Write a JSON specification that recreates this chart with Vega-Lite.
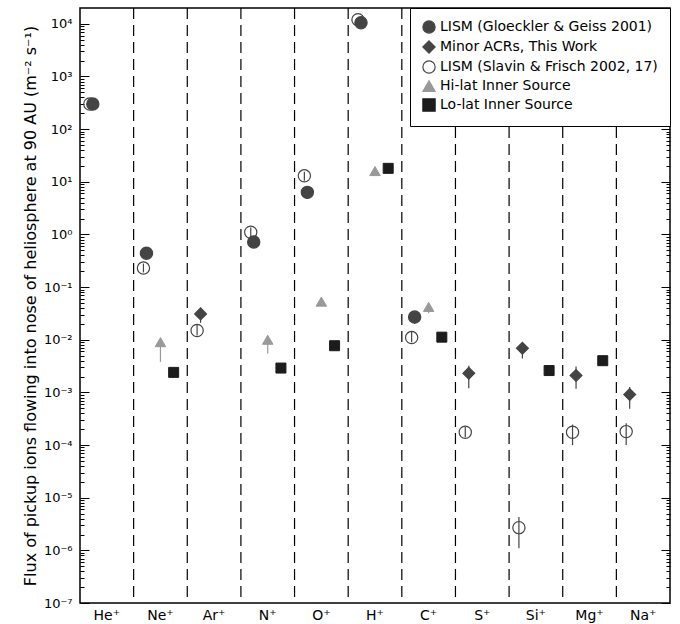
{
  "$schema": "https://vega.github.io/schema/vega-lite/v6.json",
  "width": 590,
  "height": 595,
  "autosize": {"type": "none"},
  "padding": {"left": 80, "top": 8, "right": 10, "bottom": 21},
  "config": {
    "view": {"stroke": "black", "strokeWidth": 1.5},
    "font": "DejaVu Sans",
    "axis": {"grid": false, "labelColor": "black", "titleColor": "black", "tickColor": "black", "domainColor": "black", "labelFont": "DejaVu Sans", "titleFont": "DejaVu Sans"},
    "legend": {
      "orient": "top-right", "offset": 0, "strokeColor": "black", "fillColor": "white",
      "padding": 12, "labelFontSize": 14, "labelFont": "DejaVu Sans", "labelColor": "black",
      "symbolSize": 150, "symbolStrokeWidth": 1.2, "rowPadding": 2, "labelLimit": 400, "labelOffset": 4
    }
  },
  "datasets": {
    "pts": [
      {"ion": "He⁺", "series": "LISM (Slavin & Frisch 2002, 17)", "v": 300},
      {"ion": "He⁺", "series": "LISM (Gloeckler & Geiss 2001)", "v": 300},
      {"ion": "Ne⁺", "series": "LISM (Gloeckler & Geiss 2001)", "v": 0.44},
      {"ion": "Ne⁺", "series": "LISM (Slavin & Frisch 2002, 17)", "v": 0.23, "lo": 0.19, "hi": 0.28},
      {"ion": "Ne⁺", "series": "Hi-lat Inner Source", "v": 0.009, "lo": 0.0038, "hi": 0.009},
      {"ion": "Ne⁺", "series": "Lo-lat Inner Source", "v": 0.0024},
      {"ion": "Ar⁺", "series": "Minor ACRs, This Work", "v": 0.031, "lo": 0.021, "hi": 0.031},
      {"ion": "Ar⁺", "series": "LISM (Slavin & Frisch 2002, 17)", "v": 0.015, "lo": 0.012, "hi": 0.019},
      {"ion": "N⁺", "series": "LISM (Slavin & Frisch 2002, 17)", "v": 1.1, "lo": 0.8, "hi": 1.35},
      {"ion": "N⁺", "series": "LISM (Gloeckler & Geiss 2001)", "v": 0.72},
      {"ion": "N⁺", "series": "Hi-lat Inner Source", "v": 0.01, "lo": 0.0055, "hi": 0.01},
      {"ion": "N⁺", "series": "Lo-lat Inner Source", "v": 0.0029},
      {"ion": "O⁺", "series": "LISM (Slavin & Frisch 2002, 17)", "v": 13, "lo": 10.5, "hi": 15.5},
      {"ion": "O⁺", "series": "LISM (Gloeckler & Geiss 2001)", "v": 6.3},
      {"ion": "O⁺", "series": "Hi-lat Inner Source", "v": 0.053},
      {"ion": "O⁺", "series": "Lo-lat Inner Source", "v": 0.0077},
      {"ion": "H⁺", "series": "LISM (Slavin & Frisch 2002, 17)", "v": 12000},
      {"ion": "H⁺", "series": "LISM (Gloeckler & Geiss 2001)", "v": 10500},
      {"ion": "H⁺", "series": "Hi-lat Inner Source", "v": 16},
      {"ion": "H⁺", "series": "Lo-lat Inner Source", "v": 18},
      {"ion": "C⁺", "series": "LISM (Gloeckler & Geiss 2001)", "v": 0.027, "lo": 0.02, "hi": 0.027},
      {"ion": "C⁺", "series": "LISM (Slavin & Frisch 2002, 17)", "v": 0.011, "lo": 0.009, "hi": 0.014},
      {"ion": "C⁺", "series": "Hi-lat Inner Source", "v": 0.042, "lo": 0.032, "hi": 0.042},
      {"ion": "C⁺", "series": "Lo-lat Inner Source", "v": 0.0112},
      {"ion": "S⁺", "series": "Minor ACRs, This Work", "v": 0.0023, "lo": 0.0012, "hi": 0.0032},
      {"ion": "S⁺", "series": "LISM (Slavin & Frisch 2002, 17)", "v": 0.000175, "lo": 0.00014, "hi": 0.00022},
      {"ion": "Si⁺", "series": "Minor ACRs, This Work", "v": 0.0069, "lo": 0.0044, "hi": 0.0085},
      {"ion": "Si⁺", "series": "LISM (Slavin & Frisch 2002, 17)", "v": 0.0000027, "lo": 0.0000011, "hi": 0.0000043},
      {"ion": "Si⁺", "series": "Lo-lat Inner Source", "v": 0.0026},
      {"ion": "Mg⁺", "series": "Minor ACRs, This Work", "v": 0.0021, "lo": 0.00117, "hi": 0.0031},
      {"ion": "Mg⁺", "series": "LISM (Slavin & Frisch 2002, 17)", "v": 0.000175, "lo": 0.0001, "hi": 0.000245},
      {"ion": "Mg⁺", "series": "Lo-lat Inner Source", "v": 0.004},
      {"ion": "Na⁺", "series": "Minor ACRs, This Work", "v": 0.00091, "lo": 0.00049, "hi": 0.00127},
      {"ion": "Na⁺", "series": "LISM (Slavin & Frisch 2002, 17)", "v": 0.00018, "lo": 0.0001, "hi": 0.00026}
    ],
    "seps": [
      {"ion": "Ne⁺"}, {"ion": "Ar⁺"}, {"ion": "N⁺"}, {"ion": "O⁺"}, {"ion": "H⁺"},
      {"ion": "C⁺"}, {"ion": "S⁺"}, {"ion": "Si⁺"}, {"ion": "Mg⁺"}, {"ion": "Na⁺"}
    ]
  },
  "resolve": {"axis": {"y": "independent"}},
  "layer": [
    {
      "data": {"name": "pts"},
      "transform": [{"filter": "datum.series == 'LISM (Slavin & Frisch 2002, 17)'"}],
      "mark": {"type": "point", "filled": true, "size": 150, "strokeWidth": 1.2, "opacity": 1, "xOffset": -17},
      "encoding": {
        "x": {
          "field": "ion", "type": "nominal",
          "scale": {"type": "band", "domain": ["He⁺", "Ne⁺", "Ar⁺", "N⁺", "O⁺", "H⁺", "C⁺", "S⁺", "Si⁺", "Mg⁺", "Na⁺"], "paddingInner": 0, "paddingOuter": 0},
          "axis": {"title": null, "labelAngle": 0, "ticks": false, "domain": false, "labelFontSize": 14, "labelPadding": 5, "labelColor": "black"}
        },
        "y": {
          "field": "v", "type": "quantitative",
          "scale": {"type": "log", "domain": [1e-7, 20000], "nice": false},
          "axis": {
            "orient": "left", "offset": -9,
            "values": [1e-7,2e-7,3e-7,4e-7,5e-7,6e-7,7e-7,8e-7,9e-7,1e-6,2e-6,3e-6,4e-6,5e-6,6e-6,7e-6,8e-6,9e-6,1e-5,2e-5,3e-5,4e-5,5e-5,6e-5,7e-5,8e-5,9e-5,1e-4,2e-4,3e-4,4e-4,5e-4,6e-4,7e-4,8e-4,9e-4,1e-3,2e-3,3e-3,4e-3,5e-3,6e-3,7e-3,8e-3,9e-3,0.01,0.02,0.03,0.04,0.05,0.06,0.07,0.08,0.09,0.1,0.2,0.3,0.4,0.5,0.6,0.7,0.8,0.9,1,2,3,4,5,6,7,8,9,10,20,30,40,50,60,70,80,90,100,200,300,400,500,600,700,800,900,1000,2000,3000,4000,5000,6000,7000,8000,9000,10000],
            "labelExpr": "abs(log(datum.value)/LN10 - round(log(datum.value)/LN10)) < 0.001 ? ['10⁻⁷','10⁻⁶','10⁻⁵','10⁻⁴','10⁻³','10⁻²','10⁻¹','10⁰','10¹','10²','10³','10⁴'][round(log(datum.value)/LN10)+7] : ''",
            "ticks": true, "tickSize": 9,
            "tickDash": {"condition": {"test": "abs(log(datum.value)/LN10 - round(log(datum.value)/LN10)) < 0.001", "value": [9, 0]}, "value": [0, 5, 4, 20]},
            "domain": true, "domainOpacity": 0, "labelPadding": 8, "labelFontSize": 13, "labelOverlap": false, "labelBound": false,
            "title": "Flux of pickup ions flowing into nose of heliosphere at 90 AU (m⁻² s⁻¹)",
            "titleFontSize": 16, "titleFontWeight": "normal", "titlePadding": 5
          }
        },
        "fill": {"field": "series", "type": "nominal", "title": null,
          "scale": {"domain": ["LISM (Gloeckler & Geiss 2001)", "Minor ACRs, This Work", "LISM (Slavin & Frisch 2002, 17)", "Hi-lat Inner Source", "Lo-lat Inner Source"], "range": ["#444444", "#444444", "transparent", "#999999", "#1c1c1c"]},
          "legend": {"labelExpr": "indexof(datum.label, 'lat') > 0 ? '\u00a0\u00a0\u00a0\u00a0' + datum.label : datum.label"}},
        "stroke": {"field": "series", "type": "nominal", "title": null,
          "scale": {"domain": ["LISM (Gloeckler & Geiss 2001)", "Minor ACRs, This Work", "LISM (Slavin & Frisch 2002, 17)", "Hi-lat Inner Source", "Lo-lat Inner Source"], "range": ["#444444", "#444444", "#444444", "#999999", "#1c1c1c"]}},
        "shape": {"field": "series", "type": "nominal", "title": null,
          "scale": {"domain": ["LISM (Gloeckler & Geiss 2001)", "Minor ACRs, This Work", "LISM (Slavin & Frisch 2002, 17)", "Hi-lat Inner Source", "Lo-lat Inner Source"], "range": ["circle", "diamond", "circle", "triangle-up", "square"]}}
      }
    },
    {
      "data": {"name": "pts"},
      "transform": [{"filter": "datum.series == 'LISM (Gloeckler & Geiss 2001)'"}],
      "mark": {"type": "point", "filled": true, "size": 150, "strokeWidth": 1.2, "opacity": 1, "xOffset": -14},
      "encoding": {
        "x": {"field": "ion", "type": "nominal"},
        "y": {"field": "v", "type": "quantitative", "scale": {"type": "log", "domain": [1e-7, 20000], "nice": false},
          "axis": {"orient": "right", "offset": -9,
            "values": [1e-7,2e-7,3e-7,4e-7,5e-7,6e-7,7e-7,8e-7,9e-7,1e-6,2e-6,3e-6,4e-6,5e-6,6e-6,7e-6,8e-6,9e-6,1e-5,2e-5,3e-5,4e-5,5e-5,6e-5,7e-5,8e-5,9e-5,1e-4,2e-4,3e-4,4e-4,5e-4,6e-4,7e-4,8e-4,9e-4,1e-3,2e-3,3e-3,4e-3,5e-3,6e-3,7e-3,8e-3,9e-3,0.01,0.02,0.03,0.04,0.05,0.06,0.07,0.08,0.09,0.1,0.2,0.3,0.4,0.5,0.6,0.7,0.8,0.9,1,2,3,4,5,6,7,8,9,10,20,30,40,50,60,70,80,90,100,200,300,400,500,600,700,800,900,1000,2000,3000,4000,5000,6000,7000,8000,9000,10000],
            "labelExpr": "''", "ticks": true, "tickSize": 9,
            "tickDash": {"condition": {"test": "abs(log(datum.value)/LN10 - round(log(datum.value)/LN10)) < 0.001", "value": [9, 0]}, "value": [0, 5, 4, 20]},
            "domain": true, "domainOpacity": 0, "title": null}},
        "fill": {"field": "series", "type": "nominal", "title": null},
        "stroke": {"field": "series", "type": "nominal", "title": null},
        "shape": {"field": "series", "type": "nominal", "title": null}
      }
    },
    {
      "data": {"name": "seps"},
      "mark": {"type": "rule", "color": "black", "strokeWidth": 1.2, "strokeDash": [11, 6]},
      "encoding": {
        "x": {"field": "ion", "type": "nominal", "bandPosition": 0}
      }
    },
    {
      "data": {"name": "pts"},
      "transform": [{"filter": "datum.series == 'LISM (Slavin & Frisch 2002, 17)' && isValid(datum.lo)"}],
      "mark": {"type": "rule", "color": "#444444", "strokeWidth": 1.2, "xOffset": -17},
      "encoding": {
        "x": {"field": "ion", "type": "nominal"},
        "y": {"field": "lo", "type": "quantitative", "scale": {"type": "log", "domain": [1e-7, 20000], "nice": false}, "axis": null},
        "y2": {"field": "hi"}
      }
    },
    {
      "data": {"name": "pts"},
      "transform": [{"filter": "datum.series == 'LISM (Gloeckler & Geiss 2001)' && isValid(datum.lo)"}],
      "mark": {"type": "rule", "color": "#444444", "strokeWidth": 1.2, "xOffset": -14},
      "encoding": {
        "x": {"field": "ion", "type": "nominal"},
        "y": {"field": "lo", "type": "quantitative", "scale": {"type": "log", "domain": [1e-7, 20000], "nice": false}, "axis": null},
        "y2": {"field": "hi"}
      }
    },
    {
      "data": {"name": "pts"},
      "transform": [{"filter": "datum.series == 'Minor ACRs, This Work' && isValid(datum.lo)"}],
      "mark": {"type": "rule", "color": "#444444", "strokeWidth": 1.2, "xOffset": -13.5},
      "encoding": {
        "x": {"field": "ion", "type": "nominal"},
        "y": {"field": "lo", "type": "quantitative", "scale": {"type": "log", "domain": [1e-7, 20000], "nice": false}, "axis": null},
        "y2": {"field": "hi"}
      }
    },
    {
      "data": {"name": "pts"},
      "transform": [{"filter": "datum.series == 'Hi-lat Inner Source' && isValid(datum.lo)"}],
      "mark": {"type": "rule", "color": "#999999", "strokeWidth": 1.2, "xOffset": 0},
      "encoding": {
        "x": {"field": "ion", "type": "nominal"},
        "y": {"field": "lo", "type": "quantitative", "scale": {"type": "log", "domain": [1e-7, 20000], "nice": false}, "axis": null},
        "y2": {"field": "hi"}
      }
    },
    {
      "data": {"name": "pts"},
      "transform": [{"filter": "datum.series == 'Minor ACRs, This Work'"}],
      "mark": {"type": "point", "filled": true, "size": 140, "strokeWidth": 1.2, "opacity": 1, "xOffset": -13.5},
      "encoding": {
        "x": {"field": "ion", "type": "nominal"},
        "y": {"field": "v", "type": "quantitative", "scale": {"type": "log", "domain": [1e-7, 20000], "nice": false}, "axis": null},
        "fill": {"field": "series", "type": "nominal", "title": null},
        "stroke": {"field": "series", "type": "nominal", "title": null},
        "shape": {"field": "series", "type": "nominal", "title": null}
      }
    },
    {
      "data": {"name": "pts"},
      "transform": [{"filter": "datum.series == 'Hi-lat Inner Source'"}],
      "mark": {"type": "point", "filled": true, "size": 110, "strokeWidth": 1, "opacity": 1, "xOffset": 0},
      "encoding": {
        "x": {"field": "ion", "type": "nominal"},
        "y": {"field": "v", "type": "quantitative", "scale": {"type": "log", "domain": [1e-7, 20000], "nice": false}, "axis": null},
        "fill": {"field": "series", "type": "nominal", "title": null},
        "stroke": {"field": "series", "type": "nominal", "title": null},
        "shape": {"field": "series", "type": "nominal", "title": null}
      }
    },
    {
      "data": {"name": "pts"},
      "transform": [{"filter": "datum.series == 'Lo-lat Inner Source'"}],
      "mark": {"type": "point", "filled": true, "size": 100, "strokeWidth": 1, "opacity": 1, "xOffset": 13.2},
      "encoding": {
        "x": {"field": "ion", "type": "nominal"},
        "y": {"field": "v", "type": "quantitative", "scale": {"type": "log", "domain": [1e-7, 20000], "nice": false}, "axis": null},
        "fill": {"field": "series", "type": "nominal", "title": null},
        "stroke": {"field": "series", "type": "nominal", "title": null},
        "shape": {"field": "series", "type": "nominal", "title": null}
      }
    }
  ]
}
